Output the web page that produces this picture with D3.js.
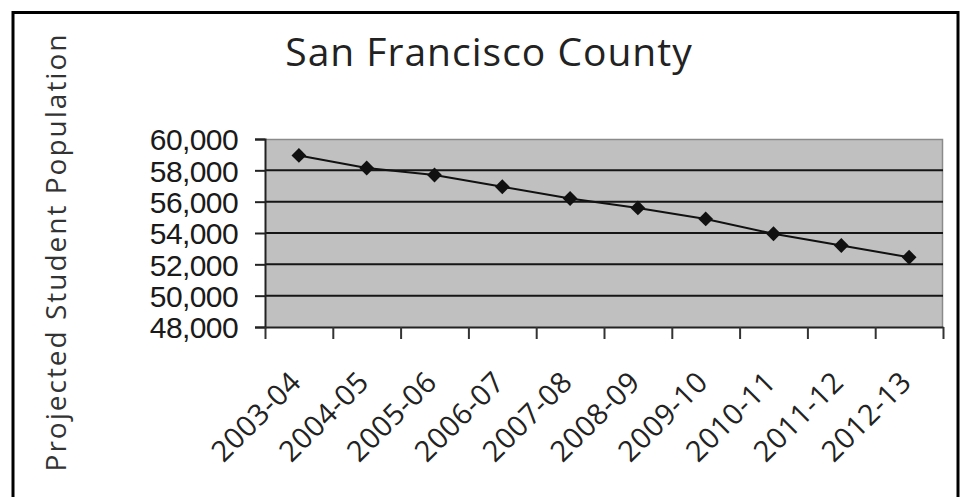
<!DOCTYPE html>
<html>
<head>
<meta charset="utf-8">
<script src="https://cdn.jsdelivr.net/npm/d3@7"></script>
<style>
  html, body { margin: 0; padding: 0; background: #fff; }
  svg { display: block; }
</style>
</head>
<body>
<svg id="chart" width="964" height="497"></svg>
<script>
// ---- data ----
const categories = ["2003-04","2004-05","2005-06","2006-07","2007-08","2008-09","2009-10","2010-11","2011-12","2012-13"];
const population = [58950, 58150, 57700, 56950, 56200, 55600, 54900, 53950, 53200, 52450];
const yTicks = [48000, 50000, 52000, 54000, 56000, 58000, 60000];
const chartTitle = "San Francisco County";
const yAxisTitle = "Projected Student Population";

// ---- layout ----
const W = 964, H = 497;
const plot = { left: 265, right: 943, top: 139, bottom: 327 };

const svg = d3.select("#chart");

svg.append("rect").attr("x", 0).attr("y", 0).attr("width", W).attr("height", H).attr("fill", "#fff");

// outer frame
svg.append("rect")
  .attr("x", 13).attr("y", 12.5).attr("width", 945).attr("height", 520)
  .attr("fill", "none").attr("stroke", "#000").attr("stroke-width", 3);

const x = d3.scaleBand().domain(categories).range([plot.left, plot.right]).padding(0);
const xEdge = d3.scaleLinear().domain([0, categories.length]).range([plot.left, plot.right]);
const y = d3.scaleLinear().domain([48000, 60000]).range([plot.bottom, plot.top]);

// plot background
svg.append("rect")
  .attr("x", plot.left).attr("y", plot.top)
  .attr("width", plot.right - plot.left).attr("height", plot.bottom - plot.top)
  .attr("fill", "#c0c0c0");

// top & right plot border
svg.append("path")
  .attr("d", `M${plot.left},${plot.top + 0.5}H${plot.right - 0.5}V${plot.bottom}`)
  .attr("fill", "none").attr("stroke", "#8a8a8a").attr("stroke-width", 1.5);

// gridlines
svg.append("g").selectAll("line")
  .data(yTicks.filter(v => v > 48000 && v < 60000))
  .join("line")
  .attr("x1", plot.left).attr("x2", plot.right)
  .attr("y1", d => y(d)).attr("y2", d => y(d))
  .attr("stroke", "#151515").attr("stroke-width", 2);

// y axis
const yAxis = svg.append("g")
  .attr("transform", `translate(${plot.left},0)`)
  .call(d3.axisLeft(y).tickValues(yTicks).tickFormat(d3.format(",")).tickSize(10).tickPadding(17));
yAxis.select(".domain").attr("stroke", "#222").attr("stroke-width", 2);
yAxis.selectAll(".tick line").attr("stroke", "#222").attr("stroke-width", 2);
yAxis.selectAll(".tick text")
  .attr("font-family", "'Liberation Sans', Arial, sans-serif")
  .attr("font-size", 30).attr("fill", "#1a1a1a")
  .attr("letter-spacing", -0.6)
  .attr("dy", "0.36em");

// x axis (ticks at category boundaries)
const xAxis = svg.append("g")
  .attr("transform", `translate(0,${plot.bottom})`)
  .call(d3.axisBottom(xEdge).tickValues(d3.range(categories.length + 1)).tickFormat("").tickSize(12).tickSizeOuter(0));
xAxis.select(".domain").attr("stroke", "#222").attr("stroke-width", 2);
xAxis.selectAll(".tick line").attr("stroke", "#333").attr("stroke-width", 2);

// x labels
svg.append("g").selectAll("text")
  .data(categories)
  .join("text")
  .attr("transform", d => `translate(${x(d) + x.bandwidth() / 2 + 4},${384}) rotate(-45)`)
  .attr("text-anchor", "end")
  .attr("font-family", "'Open Sans', sans-serif")
  .attr("font-size", 29)
  .attr("letter-spacing", 0.5)
  .attr("fill", "#222")
  .text(d => d);

// line
const line = d3.line()
  .x((d, i) => x(categories[i]) + x.bandwidth() / 2)
  .y(d => y(d));
svg.append("path")
  .datum(population)
  .attr("d", line)
  .attr("fill", "none").attr("stroke", "#111").attr("stroke-width", 2);

// diamond markers
svg.append("g").selectAll("path")
  .data(population)
  .join("path")
  .attr("d", d3.symbol(d3.symbolSquare, 110))
  .attr("transform", (d, i) => `translate(${x(categories[i]) + x.bandwidth() / 2},${y(d)}) rotate(45)`)
  .attr("fill", "#111");

// chart title
svg.append("text")
  .attr("x", 489).attr("y", 66)
  .attr("text-anchor", "middle")
  .attr("font-family", "'Open Sans', sans-serif")
  .attr("font-size", 39)
  .attr("letter-spacing", 1)
  .attr("fill", "#222")
  .text(chartTitle);

// y axis title
svg.append("text")
  .attr("transform", `translate(66,252) rotate(-90)`)
  .attr("text-anchor", "middle")
  .attr("font-family", "'Open Sans', sans-serif")
  .attr("font-size", 28)
  .attr("letter-spacing", 2)
  .attr("fill", "#333")
  .text(yAxisTitle);
</script>
</body>
</html>
